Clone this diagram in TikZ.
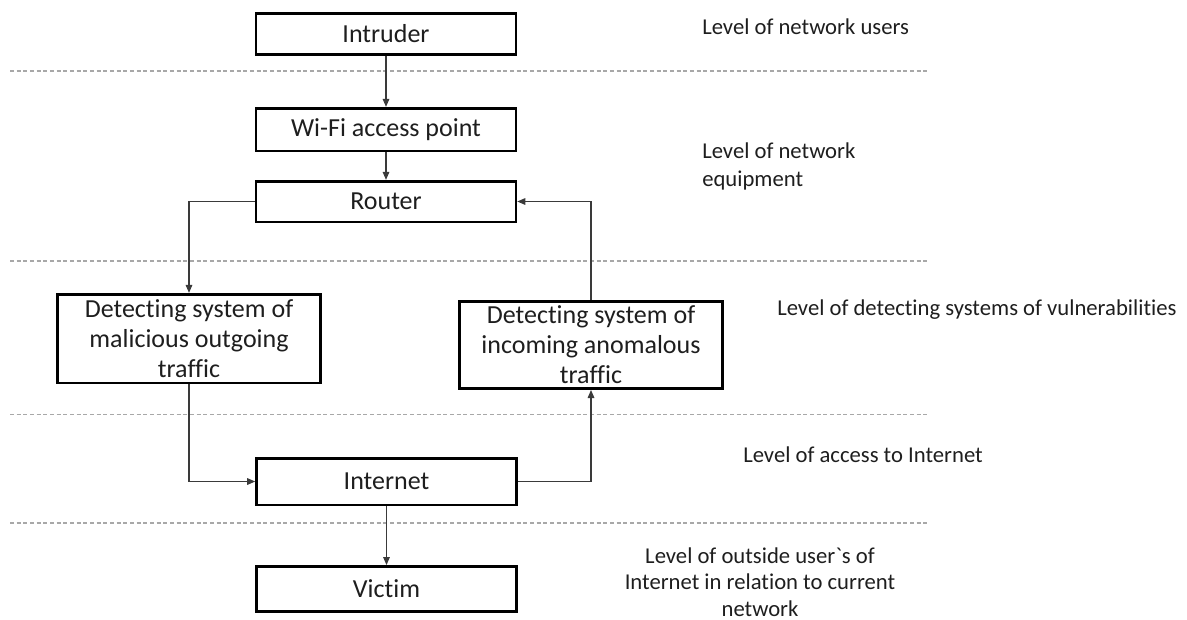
\documentclass[tikz,border=0pt]{standalone}
\usepackage{fontspec}
\newfontfamily\cf{Carlito}[Ligatures=NoCommon]
\usetikzlibrary{arrows.meta}
\definecolor{txt}{HTML}{1E1E1E}
\definecolor{linegray}{HTML}{3A3A3A}
\definecolor{sepgray}{HTML}{A8A8A8}
\begin{document}
\begin{tikzpicture}[x=0.75pt,y=-0.75pt,
  box/.style={draw=black, line width=2pt, inner sep=0pt, align=center,
    font=\cf\fontsize{19.5}{22.5}\selectfont, text=txt},
  wide/.style={minimum width=195pt},
  conn/.style={draw=linegray, line width=0.8pt, -{Triangle[length=6pt,width=5pt]}},
  sep/.style={draw=sepgray, line width=0.8pt, dash pattern=on 3pt off 2pt},
  lbl/.style={font=\cf\fontsize{17}{21}\selectfont, text=txt, inner sep=0pt}]
\useasboundingbox (0,0) rectangle (1187,619);

% level separators
\foreach \yy in {71,261,414.5,523}
  \draw[sep] (10,\yy) -- (928,\yy);

% boxes
\node[box, wide, minimum height=31pt] (intr) at (386,34) {Intruder};
\node[box, wide, minimum height=32pt] (wifi) at (386,129.5) {Wi-Fi access point};
\node[box, wide, minimum height=30.5pt] (rout) at (386,201.5) {Router};
\node[box, minimum width=197.5pt, minimum height=66.5pt] (dout) at (189,338.5)
  {Detecting system of\\malicious outgoing\\traffic};
\node[box, minimum width=197.5pt, minimum height=65.5pt] (din) at (591,345)
  {Detecting system of\\incoming anomalous\\traffic};
\node[box, wide, minimum height=35pt] (inet) at (386.5,481.5) {Internet};
\node[box, wide, minimum height=34pt] (vict) at (386.5,589) {Victim};

% connectors
\draw[conn] (intr) -- (wifi);
\draw[conn] (wifi) -- (rout);
\draw[conn] (rout.west) -| (dout.north);
\draw[conn] (din.north) |- (rout.east);
\draw[conn] (dout.south) |- (inet.west);
\draw[conn] (inet.east) -| (din.south);
\draw[conn] (inet) -- (vict);

% level captions
\node[lbl, anchor=west] (l1) at (702,27) {Level of network users};
\node[lbl, anchor=west, align=left] (l2) at (702,166) {Level of network\\equipment};
\node[lbl, anchor=west] (l3) at (777,310) {Level of detecting systems of vulnerabilities};
\node[lbl, anchor=west] (l4) at (743,455) {Level of access to Internet};
\node[lbl, align=center, font=\cf\fontsize{17}{20}\selectfont] (l5) at (760,582)
  {Level of outside user`s of\\Internet in relation to current\\network};
\end{tikzpicture}
\end{document}
